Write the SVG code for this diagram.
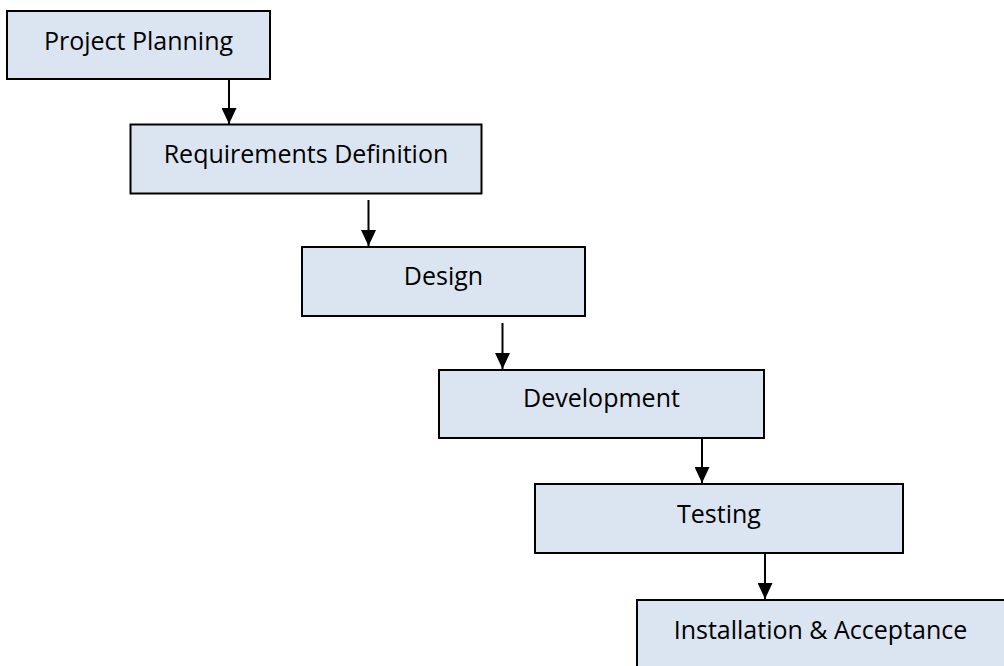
<svg xmlns="http://www.w3.org/2000/svg" width="1004" height="666" viewBox="0 0 1004 666">
  <style>
    .box { fill: #dbe5f1; stroke: #000; stroke-width: 2; }
    .label { font-family: "Open Sans", "Liberation Sans", sans-serif; font-size: 25px; fill: #000; text-anchor: middle; }
    .conn { stroke: #000; stroke-width: 2; fill: none; marker-end: url(#arrow); }
  </style>
  <defs>
    <marker id="arrow" markerUnits="userSpaceOnUse" markerWidth="16" markerHeight="15" refX="16" refY="7.5" orient="auto">
      <path d="M0,0 L16,7.5 L0,15 z" fill="#000"/>
    </marker>
  </defs>
  <rect width="1004" height="666" fill="#fff"/>
  <g id="connectors">
    <line class="conn" x1="229" y1="80" x2="229" y2="124"/>
    <line class="conn" x1="368.5" y1="200" x2="368.5" y2="246"/>
    <line class="conn" x1="502.5" y1="323" x2="502.5" y2="369"/>
    <line class="conn" x1="702" y1="439" x2="702" y2="483"/>
    <line class="conn" x1="765" y1="554" x2="765" y2="599"/>
  </g>
  <g id="project-planning">
    <rect class="box" x="7" y="11" width="263" height="68"/>
    <text class="label" x="138.5" y="50">Project Planning</text>
  </g>
  <g id="requirements-definition">
    <rect class="box" x="130.5" y="124.5" width="351" height="69"/>
    <text class="label" x="306" y="163">Requirements Definition</text>
  </g>
  <g id="design">
    <rect class="box" x="302" y="247" width="283" height="69"/>
    <text class="label" x="443.5" y="285">Design</text>
  </g>
  <g id="development">
    <rect class="box" x="439" y="370" width="325" height="68"/>
    <text class="label" x="601.5" y="407">Development</text>
  </g>
  <g id="testing">
    <rect class="box" x="535" y="484" width="368" height="69"/>
    <text class="label" x="719" y="523">Testing</text>
  </g>
  <g id="installation-acceptance">
    <rect class="box" x="637" y="600" width="368" height="68"/>
    <text class="label" x="820.5" y="639">Installation &amp; Acceptance</text>
  </g>
</svg>
